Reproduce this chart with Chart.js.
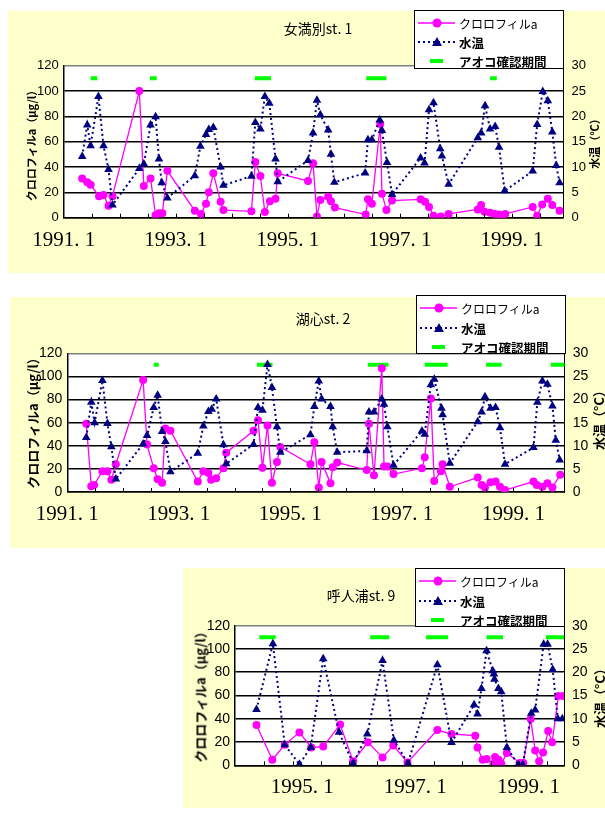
<!DOCTYPE html>
<html lang="ja">
<head>
<meta charset="UTF-8">
<title>クロロフィルaと水温の推移</title>
<script src="https://cdn.jsdelivr.net/npm/chart.js@4"></script>
<style>
  body {
    margin: 0;
    width: 605px;
    height: 818px;
    position: relative;
    overflow: hidden;
    background: #fff;
    font-family: 'Noto Sans CJK JP', sans-serif;
    color: #000;
  }
  .panel { position: absolute; background: #ffffcc; }
  .panel canvas { position: absolute; left: 0; top: 0; }
  .title { position: absolute; transform: translate(-50%, -50%); white-space: nowrap; font-size: 14px; }
  .ytitle { position: absolute; transform: translate(-50%, -50%) rotate(-90deg); white-space: nowrap; font-weight: bold; }
  .legend { position: absolute; background: #fff; border: 1px solid #000; box-sizing: border-box; width: 150px; height: 59px; }
  .legend svg { position: absolute; left: 2px; }
  .legend span { position: absolute; left: 44px; white-space: nowrap; transform: translateY(-50%); font-size: 12px; }
  .legend span.b { font-weight: bold; font-size: 12.5px; }
</style>
</head>
<body>

<div class="panel" style="left:8px;top:11px;width:597px;height:262px"><canvas id="st1" width="597" height="262"></canvas></div>
<div class="panel" style="left:10px;top:297px;width:595px;height:251px"><canvas id="st2" width="595" height="251"></canvas></div>
<div class="panel" style="left:183px;top:568px;width:422px;height:240px"><canvas id="st9" width="422" height="240"></canvas></div>

<div class="title" style="left:318px;top:28px">女満別st. 1</div>
<div class="title" style="left:323px;top:318px">湖心st. 2</div>
<div class="title" style="left:361px;top:595px">呼人浦st. 9</div>

<div class="ytitle" style="left:31px;top:143px;font-size:11px">クロロフィルa（μg/l）</div>
<div class="ytitle" style="left:32px;top:420px;font-size:13px">クロロフィルa（μg/l）</div>
<div class="ytitle" style="left:200px;top:694px;font-size:13px">クロロフィルa（μg/l）</div>

<div class="ytitle" style="left:594px;top:141px;font-size:11px">水温（°C）</div>
<div class="ytitle" style="left:598px;top:417px;font-size:13px">水温（°C）</div>
<div class="ytitle" style="left:599px;top:695px;font-size:13px">水温（°C）</div>

<script>
// 女満別 st.1
const st1ChlX = [1991.33, 1991.42, 1991.48, 1991.63, 1991.71, 1991.80, 1991.87, 1992.35, 1992.43, 1992.55, 1992.64, 1992.70, 1992.76, 1992.85,
  1993.34, 1993.45, 1993.54, 1993.59, 1993.67, 1993.80, 1993.85, 1994.35, 1994.42, 1994.51, 1994.59, 1994.68, 1994.78, 1994.82,
  1995.36, 1995.45, 1995.52, 1995.58, 1995.72, 1995.77, 1995.84, 1996.39, 1996.43, 1996.50, 1996.65, 1996.68, 1996.76, 1996.86,
  1997.37, 1997.45, 1997.52, 1997.60, 1997.73, 1997.87, 1998.39, 1998.45, 1998.51, 1998.61, 1998.69, 1998.76, 1998.82, 1998.88,
  1999.37, 1999.45, 1999.54, 1999.64, 1999.72, 1999.85];
const st1Chl = [31, 28, 26, 17, 18, 9.5, 17, 100, 25, 31, 2, 3.5, 3.5, 37,
  5.5, 3, 11, 20, 35, 12.5, 6, 5, 44, 33, 4.5, 13, 15, 35,
  29, 43, 1, 14, 16.5, 13, 8, 2.5, 14.5, 11, 74, 19, 6, 13.5,
  14.5, 12.5, 8.5, 1.5, 1, 3, 6.5, 10, 4.7, 4, 3, 2.6, 2, 3,
  8.5, 1.6, 10.5, 15, 10, 5.5];
const st1TempX = [1991.33, 1991.42, 1991.48, 1991.62, 1991.71, 1991.80, 1991.87, 1992.35, 1992.43, 1992.55, 1992.64, 1992.70, 1992.75, 1992.85,
  1993.34, 1993.44, 1993.54, 1993.59, 1993.67, 1993.80, 1993.85, 1994.35, 1994.42, 1994.51, 1994.59, 1994.67, 1994.78, 1994.82,
  1995.36, 1995.45, 1995.52, 1995.58, 1995.72, 1995.77, 1995.83, 1996.38, 1996.43, 1996.50, 1996.64, 1996.68, 1996.77, 1996.86,
  1997.37, 1997.44, 1997.52, 1997.60, 1997.72, 1997.75, 1997.87, 1998.39, 1998.45, 1998.52, 1998.61, 1998.70, 1998.77, 1998.87,
  1999.37, 1999.45, 1999.55, 1999.64, 1999.72, 1999.79, 1999.85];
const st1Temp = [12.1, 18.3, 14.2, 23.9, 14.2, 9.5, 2.5, 9.7, 10.6, 18.3, 19.9, 11.6, 6.9, 3.9,
  8.3, 14.1, 16.4, 17.4, 17.8, 10.0, 6.4, 8.2, 18.8, 17.5, 23.9, 22.6, 11.6, 7.1,
  11.3, 16.7, 23.2, 20.3, 17.3, 12.5, 7.0, 8.8, 15.4, 15.4, 19.3, 17.2, 10.9, 4.6,
  11.8, 10.8, 21.3, 22.7, 13.6, 12.2, 6.6, 15.8, 16.7, 22.1, 17.5, 18.0, 13.9, 5.3,
  9.2, 18.4, 24.9, 23.1, 16.9, 10.3, 6.9];
const st1AokoStart = [1991.48, 1992.54, 1994.41, 1996.40, 1998.61];
const st1AokoEnd = [1991.60, 1992.66, 1994.70, 1996.76, 1998.73];

// 湖心 st.2
const st2ChlX = [1991.34, 1991.43, 1991.48, 1991.63, 1991.72, 1991.79, 1991.87, 1992.36, 1992.43, 1992.55, 1992.62, 1992.70, 1992.76, 1992.85,
  1993.34, 1993.44, 1993.53, 1993.58, 1993.67, 1993.80, 1993.85, 1994.34, 1994.42, 1994.50, 1994.59, 1994.67, 1994.76, 1994.82,
  1995.36, 1995.43, 1995.51, 1995.56, 1995.72, 1995.76, 1995.84, 1996.37, 1996.41, 1996.50, 1996.64, 1996.68, 1996.74, 1996.85,
  1997.36, 1997.41, 1997.52, 1997.58, 1997.70, 1997.73, 1997.86, 1998.36, 1998.43, 1998.49, 1998.59, 1998.68, 1998.76, 1998.85,
  1999.36, 1999.42, 1999.52, 1999.61, 1999.70, 1999.84];
const st2Chl = [59, 5, 6, 18, 18, 10.5, 24, 97, 41, 20.5, 11, 8, 55, 53,
  9, 18, 16.5, 10.5, 12, 20.5, 34, 53, 62, 21, 57.5, 8, 26, 39,
  24, 43, 4, 26, 7.5, 21.5, 25.5, 19, 59, 14.5, 107, 22, 22, 15.5,
  20.5, 30, 81, 9.5, 18, 24, 4.5, 12.5, 6, 3.8, 8.5, 9, 4.5, 1.7,
  9, 6, 4.5, 7.5, 3.8, 15];
const st2TempX = [1991.34, 1991.43, 1991.49, 1991.63, 1991.72, 1991.79, 1991.87, 1992.36, 1992.43, 1992.55, 1992.62, 1992.70, 1992.76, 1992.85,
  1993.34, 1993.44, 1993.53, 1993.59, 1993.67, 1993.80, 1993.85, 1994.34, 1994.42, 1994.50, 1994.59, 1994.67, 1994.76, 1994.82,
  1995.36, 1995.43, 1995.51, 1995.56, 1995.72, 1995.76, 1995.84, 1996.37, 1996.41, 1996.50, 1996.64, 1996.68, 1996.74, 1996.85,
  1997.36, 1997.41, 1997.52, 1997.58, 1997.71, 1997.73, 1997.86, 1998.36, 1998.43, 1998.49, 1998.59, 1998.68, 1998.76, 1998.85,
  1999.36, 1999.43, 1999.52, 1999.61, 1999.70, 1999.76, 1999.83];
const st2Temp = [11.8, 19.4, 15.0, 24.1, 14.8, 9.8, 2.8, 10.4, 12.2, 18.3, 20.9, 13.1, 10.9, 4.4,
  8.4, 14.3, 17.4, 17.9, 20.1, 10.2, 6.1, 10.3, 18.3, 17.7, 27.6, 22.6, 14.1, 8.6,
  12.4, 18.5, 24.0, 20.1, 18.5, 14.1, 8.6, 8.9, 17.3, 17.3, 20.1, 19.0, 14.1, 5.8,
  13.2, 12.5, 23.2, 24.4, 18.1, 16.7, 6.2, 15.2, 17.3, 20.6, 18.1, 18.3, 13.9, 6.0,
  9.6, 19.4, 24.0, 23.3, 18.6, 11.2, 6.9];
const st2AokoStart = [1992.55, 1994.40, 1996.39, 1997.41, 1998.51, 1999.67];
const st2AokoEnd = [1992.64, 1994.68, 1996.76, 1997.82, 1998.79, 1999.92];

// 呼人浦 st.9
const st9ChlX = [1994.19, 1994.47, 1994.69, 1994.95, 1995.16, 1995.37, 1995.67, 1995.90, 1996.16, 1996.42, 1996.61, 1996.86,
  1997.39, 1997.64, 1998.06, 1998.10, 1998.19, 1998.26, 1998.38, 1998.41, 1998.47, 1998.52, 1998.62, 1998.85, 1998.91,
  1999.04, 1999.12, 1999.19, 1999.26, 1999.35, 1999.42, 1999.53, 1999.62];
const st9Chl = [34.6, 4.8, 17.6, 28.3, 15.3, 16.1, 35, 3.4, 19.8, 6.8, 17, 2.5,
  30.3, 26.9, 25.5, 15.3, 4.8, 5.4, 1.1, 7.1, 4.8, 1.4, 10.5, 2, 2,
  39.7, 12.7, 3.4, 11, 29.5, 19.8, 59.5, 59.5];
const st9TempX = [1994.19, 1994.48, 1994.69, 1994.95, 1995.15, 1995.37, 1995.65, 1995.90, 1996.15, 1996.42, 1996.62, 1996.87,
  1997.39, 1997.64, 1998.04, 1998.10, 1998.17, 1998.26, 1998.37, 1998.39, 1998.40, 1998.47, 1998.52, 1998.62, 1998.82, 1998.90,
  1999.05, 1999.12, 1999.27, 1999.34, 1999.43, 1999.52, 1999.60];
const st9Temp = [12.0, 26.1, 4.4, 0.2, 3.9, 22.9, 7.1, 0.4, 6.7, 22.5, 5.4, 0.4,
  21.6, 4.9, 13.0, 11.0, 16.5, 24.6, 20.3, 19.6, 18.5, 16.5, 15.8, 3.8, 0.1, 0.1,
  11.2, 11.9, 26.0, 26.0, 20.6, 10.0, 10.0];
const st9AokoStart = [1994.24, 1996.20, 1997.19, 1998.26, 1999.31];
const st9AokoEnd = [1994.53, 1996.54, 1997.58, 1998.55, 1999.63];

// 軸
const AOKO_Y = 110;
const labelYears12 = [1991, 1993, 1995, 1997, 1999];
const labelYears9 = [1995, 1997, 1999];
const halfYearMarks = [1991.5, 1992, 1992.5, 1993, 1993.5, 1994, 1994.5, 1995, 1995.5, 1996, 1996.5, 1997, 1997.5, 1998, 1998.5, 1999, 1999.5];
const st9Marks = [1994.33, 1994.83, 1995.33, 1995.83, 1996.33, 1996.83, 1997.33, 1997.83, 1998.33, 1998.83, 1999.33];

function pts(xs, ys) {
  return xs.map((x, i) => ({ x: x, y: ys[i] }));
}

// 緑のバー（アオコ確認期間）は null で区切る
function aokoPts(starts, ends) {
  const out = [];
  starts.forEach((s, i) => {
    out.push({ x: s, y: AOKO_Y }, { x: ends[i], y: AOKO_Y }, { x: ends[i], y: null });
  });
  return out;
}

// プロットエリアの白背景と内向きの目盛り
const plotFrame = {
  id: 'plotFrame',
  beforeDraw(chart) {
    const a = chart.chartArea, ctx = chart.ctx;
    ctx.save();
    ctx.fillStyle = '#fff';
    ctx.fillRect(a.left, a.top, a.right - a.left, a.bottom - a.top);
    ctx.restore();
  },
  afterDraw(chart, args, opts) {
    const a = chart.chartArea, ctx = chart.ctx, xs = chart.scales.x;
    ctx.save();
    ctx.strokeStyle = '#000';
    ctx.lineWidth = 1;
    (opts.marks || []).forEach(v => {
      const px = Math.round(xs.getPixelForValue(v)) + 0.5;
      ctx.beginPath();
      ctx.moveTo(px, a.bottom);
      ctx.lineTo(px, a.bottom - 4);
      ctx.stroke();
    });
    ctx.restore();
  }
};

function drawStation(id, c) {
  new Chart(document.getElementById(id), {
    type: 'line',
    data: {
      datasets: [
        {
          label: '水温', data: pts(c.tempX, c.temp), yAxisID: 'y2', order: 1,
          borderColor: '#000080', backgroundColor: '#000080', borderWidth: 2, borderDash: [2, 3],
          pointStyle: 'triangle', pointRadius: 5, pointBorderWidth: 0, tension: 0
        },
        {
          label: 'クロロフィルa', data: pts(c.chlX, c.chl), yAxisID: 'y', order: 2,
          borderColor: '#ff00ff', backgroundColor: '#ff00ff', borderWidth: 1.3,
          pointRadius: 4, pointBorderWidth: 0, tension: 0
        },
        {
          label: 'アオコ確認期間', data: aokoPts(c.aokoS, c.aokoE), yAxisID: 'y', order: 3,
          borderColor: '#00ff00', borderWidth: 4, borderCapStyle: 'butt', pointRadius: 0, spanGaps: false
        }
      ]
    },
    options: {
      responsive: false,
      animation: false,
      layout: { padding: { top: c.top, left: 0, right: 0, bottom: 0 } },
      plugins: {
        legend: { display: false },
        tooltip: { enabled: false },
        plotFrame: { marks: c.marks }
      },
      scales: {
        x: {
          type: 'linear', min: c.xMin, max: c.xMax,
          afterBuildTicks: s => { s.ticks = c.labels.map(v => ({ value: v })); },
          afterFit: s => { s.height = c.xH; },
          grid: { display: false, drawTicks: false },
          border: { display: true, color: '#000', width: 1.5 },
          ticks: {
            autoSkip: false, maxRotation: 0, padding: 10, color: '#000',
            font: { family: 'Liberation Serif', size: 21 },
            callback: v => v + '. 1'
          }
        },
        y: {
          position: 'left', min: 0, max: 120,
          afterFit: s => { s.width = c.yW; },
          ticks: { stepSize: 20, padding: 5, color: '#000', font: { family: 'Liberation Sans', size: c.tickSize } },
          grid: { color: ctx => ctx.tick.value === 120 ? '#808080' : '#000', lineWidth: 1.5, drawTicks: false },
          border: { color: '#000', width: 1.5 }
        },
        y2: {
          position: 'right', min: 0, max: 30,
          afterFit: s => { s.width = c.y2W; },
          ticks: { stepSize: 5, padding: 8, color: '#000', font: { family: 'Liberation Sans', size: c.tickSize } },
          grid: { drawOnChartArea: false, drawTicks: false },
          border: { color: '#000', width: 1 }
        }
      }
    },
    plugins: [plotFrame]
  });
}

drawStation('st1', {
  chlX: st1ChlX, chl: st1Chl, tempX: st1TempX, temp: st1Temp, aokoS: st1AokoStart, aokoE: st1AokoEnd,
  xMin: 1991, xMax: 1999.92, labels: labelYears12, marks: halfYearMarks,
  top: 54.7, yW: 55.7, y2W: 41.5, xH: 55.3, tickSize: 13
});
drawStation('st2', {
  chlX: st2ChlX, chl: st2Chl, tempX: st2TempX, temp: st2Temp, aokoS: st2AokoStart, aokoE: st2AokoEnd,
  xMin: 1991, xMax: 1999.92, labels: labelYears12, marks: halfYearMarks,
  top: 56.3, yW: 57.3, y2W: 40.3, xH: 56, tickSize: 14
});
drawStation('st9', {
  chlX: st9ChlX, chl: st9Chl, tempX: st9TempX, temp: st9Temp, aokoS: st9AokoStart, aokoE: st9AokoEnd,
  xMin: 1993.81, xMax: 1999.63, labels: labelYears9, marks: st9Marks,
  top: 57.7, yW: 52, y2W: 41, xH: 42.7, tickSize: 14
});

// 凡例
function makeLegend(left, top, rows) {
  const d = document.createElement('div');
  d.className = 'legend';
  d.style.left = left + 'px';
  d.style.top = top + 'px';
  d.innerHTML =
    '<svg width="42" height="12" style="top:' + (rows[0] - 7) + 'px">' +
      '<line x1="1" y1="6" x2="38" y2="6" stroke="#ff00ff" stroke-width="1.3"/>' +
      '<circle cx="20" cy="6" r="4.5" fill="#ff00ff"/></svg>' +
    '<span style="top:' + (rows[0] - 1) + 'px">クロロフィルa</span>' +
    '<svg width="42" height="12" style="top:' + (rows[1] - 7) + 'px">' +
      '<line x1="1" y1="6" x2="38" y2="6" stroke="#000080" stroke-width="2" stroke-dasharray="2 3"/>' +
      '<polygon points="20,1 25,10 15,10" fill="#000080"/></svg>' +
    '<span class="b" style="top:' + (rows[1] - 1) + 'px">水温</span>' +
    '<svg width="42" height="12" style="top:' + (rows[2] - 7) + 'px">' +
      '<rect x="13" y="4" width="13" height="4" fill="#00ff00"/></svg>' +
    '<span class="b" style="top:' + (rows[2] - 1) + 'px">アオコ確認期間</span>';
  document.body.appendChild(d);
}

makeLegend(414, 10, [12.7, 31.7, 51]);
makeLegend(416, 295, [13, 32.5, 51.5]);
makeLegend(415, 568, [12.7, 33, 52]);
</script>
</body>
</html>
